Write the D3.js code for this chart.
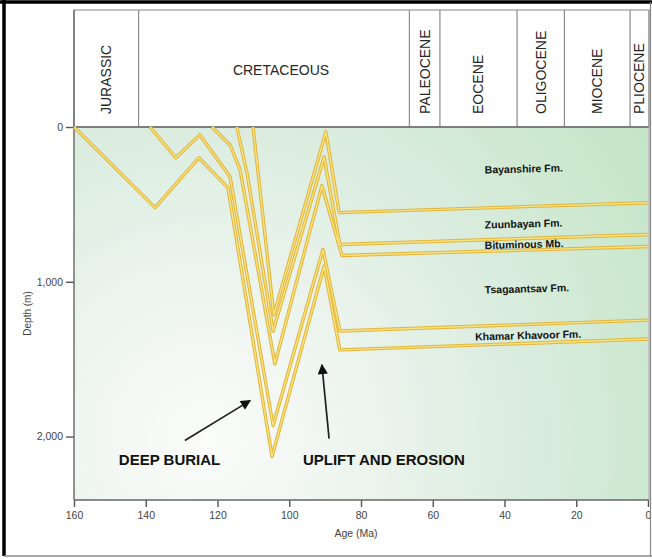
<!DOCTYPE html>
<html>
<head>
<meta charset="utf-8">
<script src="https://cdn.jsdelivr.net/npm/d3@7"></script>
<style>
  body { margin: 0; background: #fff; }
  svg { display: block; }
  text { font-family: "Liberation Sans", Arial, sans-serif; }
</style>
</head>
<body>
<svg id="chart" width="652" height="559"></svg>
<script>
// Geological time header
const periodNames = ["JURASSIC", "CRETACEOUS", "PALEOCENE", "EOCENE", "OLIGOCENE", "MIOCENE", "PLIOCENE"];
const periodStart = [160, 142, 66.5, 58, 36.5, 23.3, 5];
const periodEnd   = [142, 66.5, 58, 36.5, 23.3, 5, 0];

// Axis ticks
const ageTicks = [160, 140, 120, 100, 80, 60, 40, 20, 0];
const depthTicks = [0, 1000, 2000];

// Burial paths of each horizon: [age (Ma), depth (m)]
const horizon1 = [[110.1, 0], [104.3, 1215], [89.8, 32], [86.1, 553], [0, 489]];
const horizon2 = [[114.6, 0], [111.8, 296], [104.5, 1318], [90.3, 193], [85.9, 759], [0, 695]];
const horizon3 = [[121.5, 0], [116.5, 116], [113.7, 277], [104.0, 1531], [90.9, 379], [85.3, 830], [0, 772]];
const horizon4 = [[138.8, 0], [131.6, 199], [124.9, 51], [116.5, 322], [104.5, 1929], [90.6, 791], [85.9, 1318], [0, 1248]];
const horizon5 = [[160, 0], [137.4, 521], [125.2, 199], [117.1, 392], [104.8, 2129], [90.3, 900], [85.9, 1440], [0, 1370]];

// Formation labels
const formationNames = ["Bayanshire Fm.", "Zuunbayan Fm.", "Bituminous Mb.", "Tsagaantsav Fm.", "Khamar Khavoor Fm."];
const formationAge   = [45.5, 45.5, 45.5, 45.5, 48.2];
const formationDepth = [277, 632, 765, 1052, 1355];

// Annotations
const noteText  = ["DEEP BURIAL", "UPLIFT AND EROSION"];
const noteAge   = [147.5, 96.2];
const noteDepth = [2186, 2186];
const arrowFromAge   = [129.1, 88.9];
const arrowFromDepth = [2026, 2013];
const arrowToAge     = [110.9, 90.9];
const arrowToDepth   = [1768, 1537];

const W = 652, H = 559;
const plotLeft = 74, plotRight = 648, plotTop = 127, plotBottom = 500, headerTop = 10;

const svg = d3.select("#chart");
const x = d3.scaleLinear().domain([160, 0]).range([plotLeft, plotRight]);
const y = d3.scaleLinear().domain([0, 2410]).range([plotTop, plotBottom]);

// Plot background: pale near the lower left, greener toward the right
const defs = svg.append("defs");
const grad = defs.append("radialGradient")
  .attr("id", "bg").attr("gradientUnits", "userSpaceOnUse")
  .attr("cx", 205).attr("cy", 440).attr("r", 560);
grad.append("stop").attr("offset", 0).attr("stop-color", "#fbfcfa");
grad.append("stop").attr("offset", 0.22).attr("stop-color", "#f0f6f1");
grad.append("stop").attr("offset", 0.55).attr("stop-color", "#dcede0");
grad.append("stop").attr("offset", 0.85).attr("stop-color", "#cae7cd");
grad.append("stop").attr("offset", 1).attr("stop-color", "#c2e3c5");

defs.append("marker")
  .attr("id", "head").attr("viewBox", "0 0 10 10")
  .attr("refX", 9).attr("refY", 5)
  .attr("markerWidth", 8).attr("markerHeight", 6)
  .attr("markerUnits", "strokeWidth")
  .attr("orient", "auto")
  .append("path").attr("d", "M0,0 L10,5 L0,10 Z").attr("fill", "#111");

svg.append("rect")
  .attr("x", plotLeft).attr("y", plotTop)
  .attr("width", plotRight - plotLeft).attr("height", plotBottom - plotTop)
  .attr("fill", "url(#bg)");

// Header cells
const header = svg.append("g");
header.append("rect")
  .attr("x", plotLeft).attr("y", headerTop)
  .attr("width", plotRight + 1 - plotLeft).attr("height", plotTop - headerTop)
  .attr("fill", "#fff").attr("stroke", "#9a9a9a").attr("stroke-width", 1.2);

header.selectAll("line.sep")
  .data(periodEnd.slice(0, -1))
  .join("line")
  .attr("class", "sep")
  .attr("x1", d => x(d)).attr("x2", d => x(d))
  .attr("y1", headerTop).attr("y2", plotTop)
  .attr("stroke", "#8a8a8a").attr("stroke-width", 1.2);

periodNames.forEach((name, i) => {
  const cx = (x(periodStart[i]) + x(periodEnd[i])) / 2;
  if (name === "CRETACEOUS") {
    header.append("text")
      .attr("x", cx + 7).attr("y", 70)
      .attr("dy", "0.35em")
      .attr("text-anchor", "middle")
      .attr("font-size", 14).attr("fill", "#262626")
      .text(name);
  } else {
    header.append("text")
      .attr("transform", `translate(${cx + 5},114) rotate(-90)`)
      .attr("font-size", 14).attr("fill", "#262626")
      .text(name);
  }
});

// Axes
const yAxis = d3.axisLeft(y).tickValues(depthTicks).tickSize(8).tickPadding(3)
  .tickFormat(d3.format(","));
const gy = svg.append("g").attr("transform", `translate(${plotLeft},0)`).call(yAxis);
gy.select(".domain").remove();
gy.selectAll("line").attr("stroke", "#555").attr("stroke-width", 1.4);
gy.selectAll("text").attr("font-size", 10.5).attr("fill", "#444")
  .attr("font-family", "'Liberation Sans', Arial, sans-serif");

const xAxis = d3.axisBottom(x).tickValues(ageTicks).tickSize(7).tickPadding(5);
const gx = svg.append("g").attr("transform", `translate(0,${plotBottom})`).call(xAxis);
gx.select(".domain").remove();
gx.selectAll("line").attr("stroke", "#555").attr("stroke-width", 1.4);
gx.selectAll("text").attr("font-size", 10.5).attr("fill", "#444")
  .attr("font-family", "'Liberation Sans', Arial, sans-serif");

// Plot frame lines
svg.append("line").attr("x1", plotLeft).attr("x2", plotLeft).attr("y1", headerTop).attr("y2", plotBottom)
  .attr("stroke", "#666").attr("stroke-width", 1.4);
svg.append("line").attr("x1", plotLeft).attr("x2", plotRight + 1).attr("y1", plotBottom).attr("y2", plotBottom)
  .attr("stroke", "#666").attr("stroke-width", 1.4);
svg.append("line").attr("x1", plotLeft).attr("x2", plotRight + 1).attr("y1", plotTop).attr("y2", plotTop)
  .attr("stroke", "#6a6a6a").attr("stroke-width", 1.6);
svg.append("line").attr("x1", plotRight + 1).attr("x2", plotRight + 1).attr("y1", headerTop).attr("y2", plotBottom)
  .attr("stroke", "#999").attr("stroke-width", 1.2);

// Axis titles
svg.append("text")
  .attr("transform", `translate(31,${(plotTop + plotBottom) / 2}) rotate(-90)`)
  .attr("text-anchor", "middle")
  .attr("font-size", 10).attr("fill", "#444")
  .text("Depth (m)");
svg.append("text")
  .attr("x", 356).attr("y", 533).attr("dy", "0.35em")
  .attr("text-anchor", "middle")
  .attr("font-size", 10.5).attr("fill", "#444")
  .text("Age (Ma)");

// Burial curves: golden outline with a light yellow core
const line = d3.line().x(d => x(d[0])).y(d => y(d[1])).curve(d3.curveLinear);
const horizons = [horizon5, horizon4, horizon3, horizon2, horizon1];
const curves = svg.append("g");
curves.selectAll("path.outer")
  .data(horizons).join("path")
  .attr("class", "outer")
  .attr("d", line)
  .attr("fill", "none")
  .attr("stroke", "#dfb53e")
  .attr("stroke-width", 3.4)
  .attr("stroke-linejoin", "round");
curves.selectAll("path.inner")
  .data(horizons).join("path")
  .attr("class", "inner")
  .attr("d", line)
  .attr("fill", "none")
  .attr("stroke", "#fbe27a")
  .attr("stroke-width", 1.4)
  .attr("stroke-linejoin", "round");

// Formation names
formationNames.forEach((name, i) => {
  svg.append("text")
    .attr("transform", `translate(${x(formationAge[i])},${y(formationDepth[i])}) rotate(-1.5)`)
    .attr("dy", "0.35em")
    .attr("font-size", 10.5).attr("font-weight", "bold").attr("fill", "#111")
    .text(name);
});

// Annotation arrows and captions
noteText.forEach((t, i) => {
  svg.append("line")
    .attr("x1", x(arrowFromAge[i])).attr("y1", y(arrowFromDepth[i]))
    .attr("x2", x(arrowToAge[i])).attr("y2", y(arrowToDepth[i]))
    .attr("stroke", "#222").attr("stroke-width", 1.7)
    .attr("marker-end", "url(#head)");
  svg.append("text")
    .attr("x", x(noteAge[i])).attr("y", y(noteDepth[i]))
    .attr("font-size", 15).attr("font-weight", "bold").attr("fill", "#111")
    .text(t);
});

// Outer frame
svg.append("line").attr("x1", 0).attr("x2", W).attr("y1", 2).attr("y2", 2)
  .attr("stroke", "#000").attr("stroke-width", 3.5);
svg.append("line").attr("x1", 4).attr("x2", 4).attr("y1", 0).attr("y2", 556)
  .attr("stroke", "#000").attr("stroke-width", 3.5);
svg.append("line").attr("x1", 4).attr("x2", W).attr("y1", 556).attr("y2", 556)
  .attr("stroke", "#888").attr("stroke-width", 1.5);
svg.append("line").attr("x1", 650.5).attr("x2", 650.5).attr("y1", 2).attr("y2", 556)
  .attr("stroke", "#888").attr("stroke-width", 1.2);
</script>
</body>
</html>
